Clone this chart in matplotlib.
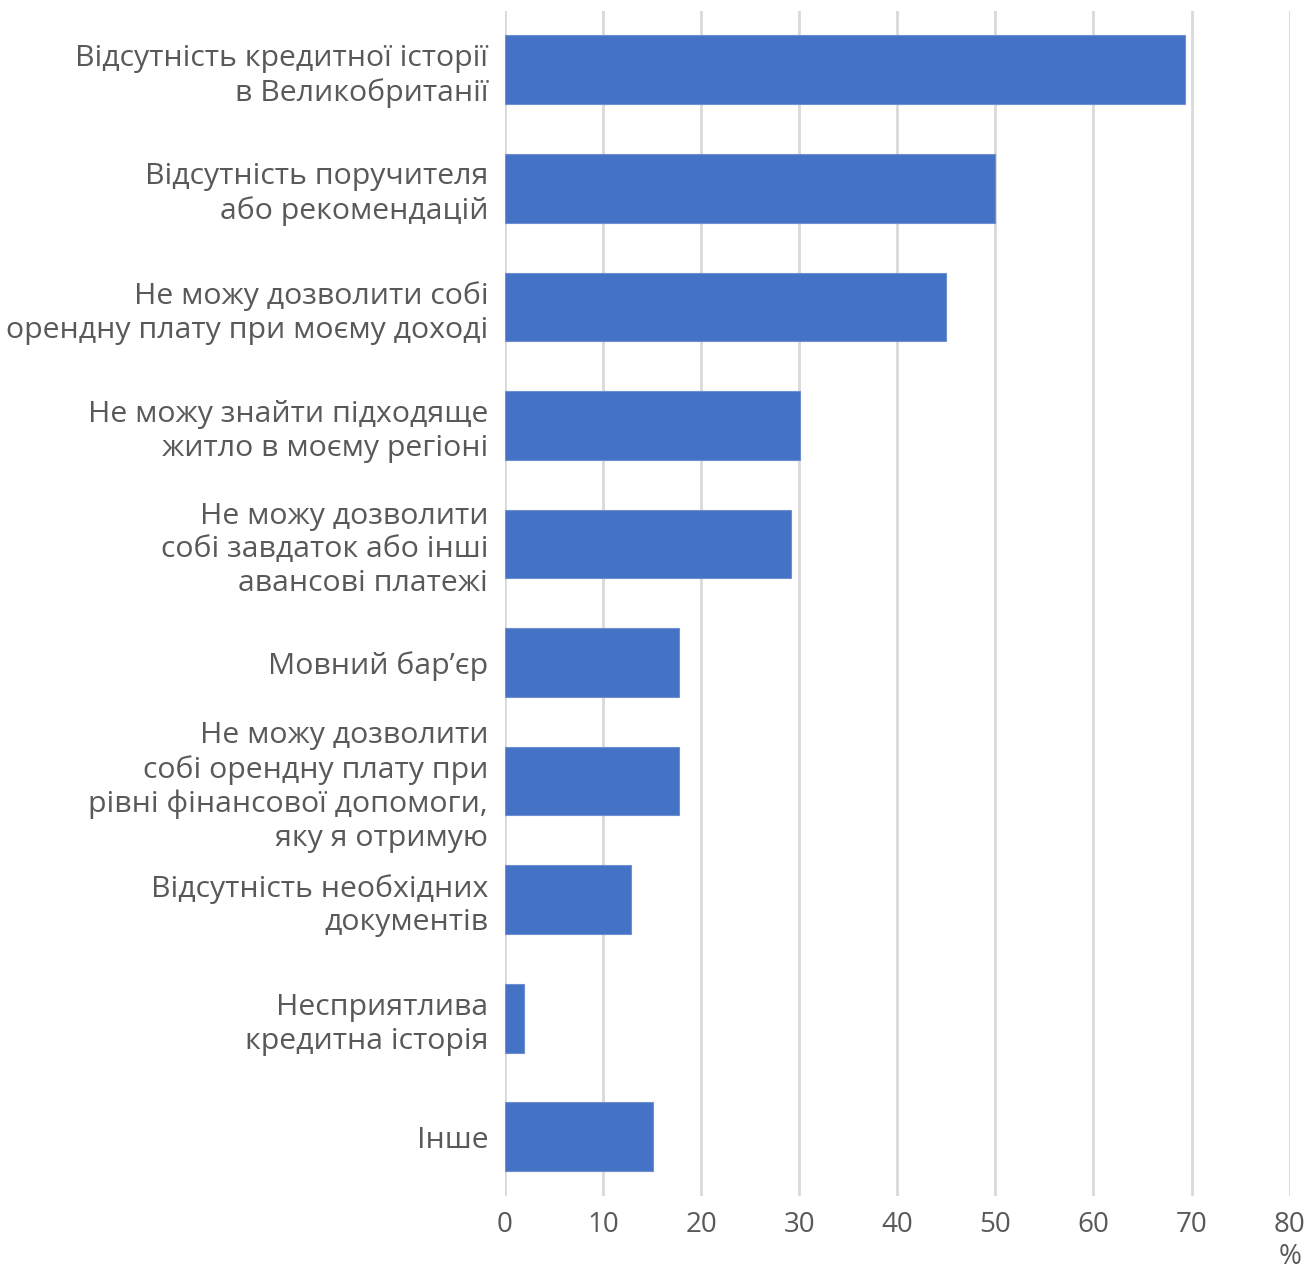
import matplotlib

matplotlib.use("Agg")
import matplotlib.pyplot as plt

plt.rcParams["font.family"] = ["Open Sans", "DejaVu Sans"]

labels = [
    "Відсутність кредитної історії\nв Великобританії",
    "Відсутність поручителя\nабо рекомендацій",
    "Не можу дозволити собі\nорендну плату при моєму доході",
    "Не можу знайти підходяще\nжитло в моєму регіоні",
    "Не можу дозволити\nсобі завдаток або інші\nавансові платежі",
    "Мовний бар’єр",
    "Не можу дозволити\nсобі орендну плату при\nрівні фінансової допомоги,\nяку я отримую",
    "Відсутність необхідних\nдокументів",
    "Несприятлива\nкредитна історія",
    "Інше",
]
values = [69.3, 50.0, 45.0, 30.1, 29.2, 17.7, 17.7, 12.9, 1.9, 15.1]
xticks = [0, 10, 20, 30, 40, 50, 60, 70, 80]

text_color = "#595959"
bar_color = "#4472C4"

fig = plt.figure(figsize=(13.08, 12.76), dpi=100)
ax = fig.add_axes([0.386, 0.0627, 0.600, 0.929])

pos = list(range(len(labels)))
ax.barh(pos, values, height=0.58, color=bar_color, edgecolor="#6f8fd0", linewidth=0.8, zorder=3)

ax.set_xlim(0, 80)
ax.set_ylim(len(labels) - 0.5, -0.5)
ax.set_xticks(xticks)
ax.set_xticklabels([str(t) for t in xticks], fontsize=20, color=text_color)
ax.set_yticks(pos)
ax.set_yticklabels(labels, fontsize=21.8, color=text_color, linespacing=1.22)
ax.tick_params(axis="both", length=0)
ax.tick_params(axis="y", pad=12)
ax.tick_params(axis="x", pad=11)

for s in ax.spines.values():
    s.set_visible(False)
ax.grid(axis="x", color="#D9D9D9", linewidth=2, zorder=0)

fig.text(0.995, 0.004, "%", ha="right", va="bottom", fontsize=20, color=text_color)

fig.savefig("out.png", dpi=100)
